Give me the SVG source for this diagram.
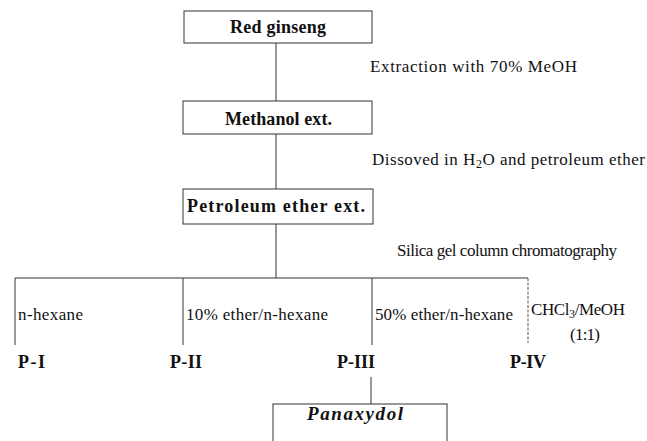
<svg xmlns="http://www.w3.org/2000/svg" width="647" height="441" viewBox="0 0 647 441">
<style>
.box{fill:#fff;stroke:#333;stroke-width:1}
.ln{stroke:#333;stroke-width:1;fill:none}
.dash{stroke:#555;stroke-width:1;fill:none;stroke-dasharray:3 1.5}
.t{font-family:"Liberation Serif","Times New Roman",serif;font-size:17px;fill:#111}
.b{font-family:"Liberation Serif","Times New Roman",serif;font-size:18px;font-weight:bold;fill:#111}
.bi{font-family:"Liberation Serif","Times New Roman",serif;font-size:19px;font-weight:bold;font-style:italic;fill:#111}
</style>
<rect width="647" height="441" fill="#fff"/>
<g id="connectors">
<line class="ln" x1="276" y1="43" x2="276" y2="101"/>
<line class="ln" x1="276" y1="134" x2="276" y2="189"/>
<line class="ln" x1="276" y1="224" x2="276" y2="278"/>
<line class="ln" x1="15" y1="278" x2="528" y2="278"/>
<line class="ln" x1="15" y1="278" x2="15" y2="345"/>
<line class="ln" x1="183" y1="278" x2="183" y2="345"/>
<line class="ln" x1="372" y1="278" x2="372" y2="345"/>
<line class="dash" x1="528" y1="278" x2="528" y2="343"/>
<line class="ln" x1="371" y1="377" x2="371" y2="404"/>
</g>
<g id="edge-labels">
<text class="t" x="370" y="72" textLength="207" lengthAdjust="spacing">Extraction with 70% MeOH</text>
<text class="t" x="372" y="165" textLength="273" lengthAdjust="spacing">Dissoved in H<tspan font-size="12" dy="3">2</tspan><tspan dy="-3">O and petroleum ether</tspan></text>
<text class="t" x="397" y="256" textLength="220" lengthAdjust="spacing">Silica gel column chromatography</text>
<text class="t" x="18" y="320" textLength="65" lengthAdjust="spacing">n-hexane</text>
<text class="t" x="186" y="320" textLength="142" lengthAdjust="spacing">10% ether/n-hexane</text>
<text class="t" x="375" y="320" textLength="138" lengthAdjust="spacing">50% ether/n-hexane</text>
<text class="t" x="531" y="315" textLength="94" lengthAdjust="spacing">CHCl<tspan font-size="12" dy="3">3</tspan><tspan dy="-3">/MeOH</tspan></text>
<text class="t" x="570" y="340" textLength="30" lengthAdjust="spacing">(1:1)</text>
</g>
<g id="red-ginseng">
<rect class="box" x="184" y="11" width="188" height="32"/>
<text class="b" x="230" y="33" textLength="96" lengthAdjust="spacing">Red ginseng</text>
</g>
<g id="methanol-ext">
<rect class="box" x="183" y="101" width="189" height="33"/>
<text class="b" x="225" y="125" textLength="107" lengthAdjust="spacing">Methanol ext.</text>
</g>
<g id="petroleum-ether-ext">
<rect class="box" x="183" y="189" width="190" height="35"/>
<text class="b" x="187" y="212" textLength="178" lengthAdjust="spacing">Petroleum ether ext.</text>
</g>
<g id="p-i"><text class="b" x="18" y="368" textLength="27" lengthAdjust="spacing">P-I</text></g>
<g id="p-ii"><text class="b" x="170" y="368" textLength="32" lengthAdjust="spacing">P-II</text></g>
<g id="p-iii"><text class="b" x="337" y="368" textLength="38" lengthAdjust="spacing">P-III</text></g>
<g id="p-iv"><text class="b" x="510" y="368" textLength="36" lengthAdjust="spacing">P-IV</text></g>
<g id="panaxydol">
<rect class="box" x="273" y="404" width="174" height="50"/>
<text class="bi" x="307" y="420" textLength="96" lengthAdjust="spacing">Panaxydol</text>
</g>
</svg>
